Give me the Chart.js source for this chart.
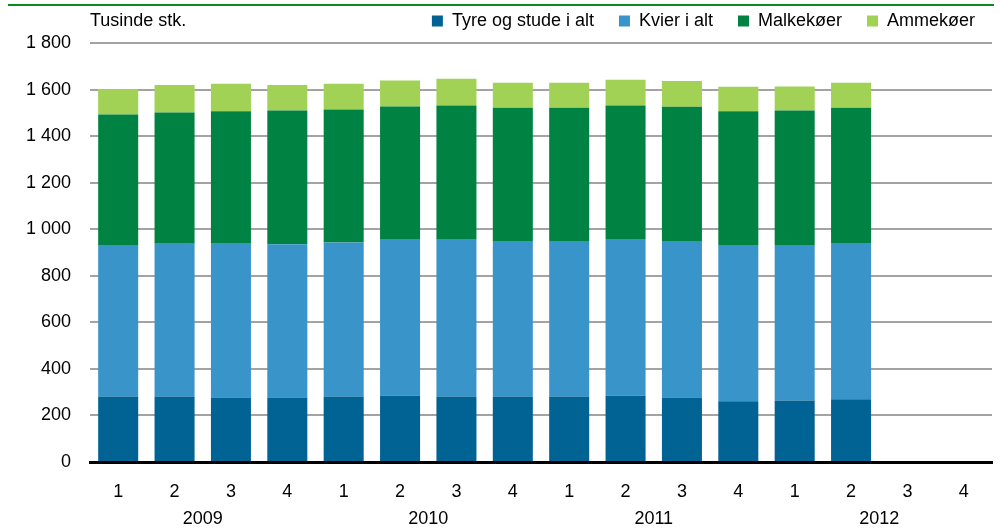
<!doctype html>
<html>

<head>
    <meta charset="utf-8">
    <title>Kvæg</title>
    <script src="https://cdn.jsdelivr.net/npm/chart.js@4/dist/chart.umd.min.js"></script>
    <style>
        body { margin: 0; background: #fff; }
        #canvas-holder { width: 1000px; height: 530px; }
    </style>
</head>

<body>
    <div id="canvas-holder">
        <canvas id="chart-area"></canvas>
    </div>
    <script>
    // kvartaler og år
    var quarters = ['1', '2', '3', '4', '1', '2', '3', '4', '1', '2', '3', '4', '1', '2', '3', '4'];
    var years = ['2009', '2010', '2011', '2012'];

    // tusinde stk.
    var tyre = [281, 281, 277, 277, 281, 285, 281, 281, 281, 285, 277, 261, 264, 270];
    var kvier = [648, 657, 664, 659, 662, 670, 674, 669, 669, 673, 673, 668, 665, 671];
    var malkekoer = [565, 564, 567, 575, 572, 573, 577, 573, 573, 574, 577, 579, 582, 582];
    var ammekoer = [109, 118, 118, 109, 111, 112, 115, 107, 107, 111, 110, 105, 103, 107];

    var yMax = 1800;
    var yStep = 200;

    var fontFamily = '"Liberation Sans", Arial, sans-serif';
    Chart.defaults.font.family = fontFamily;
    Chart.defaults.font.size = 18;
    Chart.defaults.color = '#000';

    var fmt = function(v) {
        if (v >= 1000) {
            return Math.floor(v / 1000) + ' ' + String(v % 1000).padStart(3, '0');
        }
        return String(v);
    };

    // enhed + grøn streg øverst
    var extras = {
        id: 'extras',
        afterDraw: function(chart) {
            var ctx = chart.ctx;
            ctx.save();
            ctx.fillStyle = '#0a8a1e';
            ctx.fillRect(8, 4, 986, 2);
            ctx.fillStyle = '#000';
            ctx.font = '18px ' + fontFamily;
            ctx.textBaseline = 'middle';
            ctx.textAlign = 'left';
            ctx.fillText('Tusinde stk.', 90, 21);
            ctx.restore();
        }
    };

    var config = {
        type: 'bar',
        data: {
            labels: quarters,
            datasets: [
                { label: 'Tyre og stude i alt', data: tyre, backgroundColor: '#006394' },
                { label: 'Kvier i alt', data: kvier, backgroundColor: '#3994c9' },
                { label: 'Malkekøer', data: malkekoer, backgroundColor: '#008342' },
                { label: 'Ammekøer', data: ammekoer, backgroundColor: '#a1d255' }
            ]
        },
        options: {
            responsive: true,
            maintainAspectRatio: false,
            animation: false,
            layout: { padding: { top: -13, right: 0, left: 0, bottom: 0 } },
            datasets: {
                bar: { barPercentage: 0.71, categoryPercentage: 1 }
            },
            plugins: {
                tooltip: { enabled: false },
                legend: {
                    position: 'top',
                    align: 'end',
                    labels: {
                        boxWidth: 11,
                        boxHeight: 11,
                        padding: 25,
                        color: '#000'
                    }
                },
                // lille afstand mellem forklaring og plot
                subtitle: {
                    display: true,
                    text: '',
                    weight: 500,
                    font: { size: 1 },
                    padding: { top: 0, bottom: 2 }
                }
            },
            scales: {
                x: {
                    stacked: true,
                    weight: 0,
                    grid: { display: false, drawTicks: false },
                    border: { display: true, color: '#000', width: 3 },
                    ticks: { padding: 19, maxRotation: 0, autoSkip: false },
                    afterFit: function(scale) { scale.height = 40; }
                },
                year: {
                    type: 'category',
                    labels: years,
                    position: 'bottom',
                    offset: true,
                    weight: 1,
                    grid: { display: false, drawTicks: false },
                    border: { display: false },
                    ticks: { padding: 6, maxRotation: 0 },
                    afterFit: function(scale) { scale.height = 28; }
                },
                y: {
                    stacked: true,
                    min: 0,
                    max: yMax,
                    grid: {
                        drawTicks: false,
                        lineWidth: 2,
                        color: function(c) { return c.tick && c.tick.value === 0 ? 'rgba(0,0,0,0)' : '#a3a3a3'; }
                    },
                    border: { display: false },
                    ticks: {
                        stepSize: yStep,
                        padding: 19,
                        callback: function(v) { return fmt(v); }
                    },
                    afterFit: function(scale) { scale.width = 90; }
                },
                // tom akse til højre, kun for margen
                yr: {
                    position: 'right',
                    grid: { display: false, drawTicks: false },
                    border: { display: false },
                    ticks: { display: false },
                    afterFit: function(scale) { scale.width = 8; }
                }
            }
        },
        plugins: [extras]
    };

    window.onload = function() {
        var ctx = document.getElementById('chart-area').getContext('2d');
        window.myBar = new Chart(ctx, config);
    };
    </script>
</body>

</html>
